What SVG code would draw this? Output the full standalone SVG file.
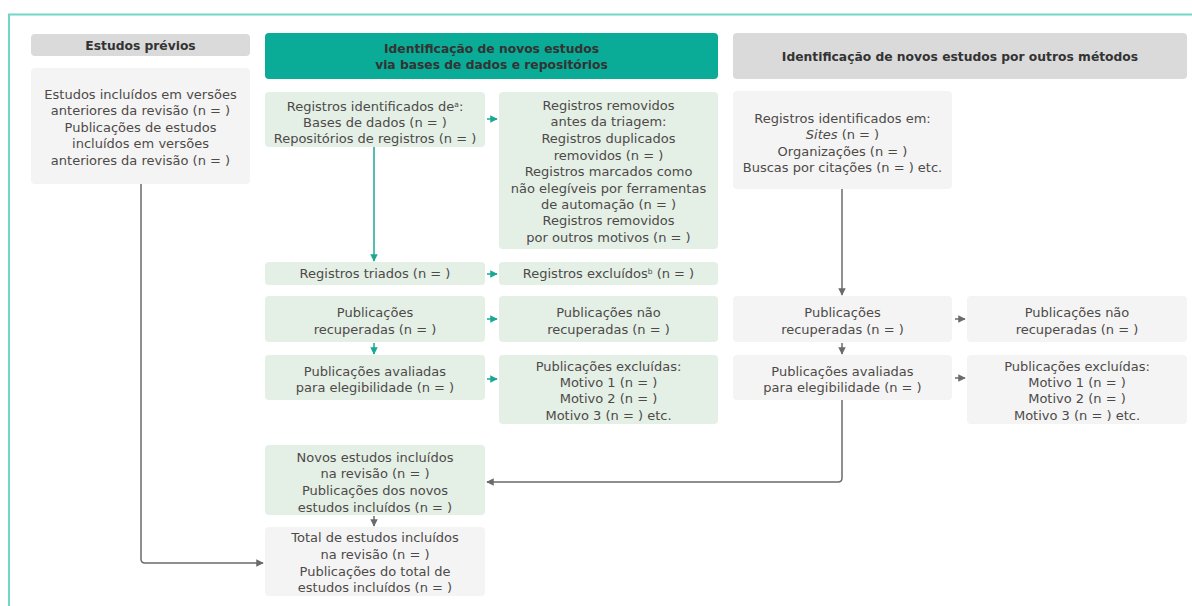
<svg xmlns="http://www.w3.org/2000/svg" width="1192" height="606" viewBox="0 0 1192 606">
<defs>
<style>
.t{font-family:"DejaVu Sans","Open Sans",sans-serif;font-size:13px;fill:#4d4a48;text-anchor:middle}
.h{font-family:"DejaVu Sans","Open Sans",sans-serif;font-size:12.3px;font-weight:bold;fill:#333;text-anchor:middle}
.g{fill:#e4efe6}
.w{fill:#f4f4f4}
.hd{fill:#dadada}
.ct{stroke:#1aa892;stroke-width:1.5;fill:none}
.cg{stroke:#6b6b6b;stroke-width:1.5;fill:none}
.sup{font-size:7.5px}
</style>
<marker id="at" viewBox="0 0 10 10" refX="9" refY="5" markerWidth="5" markerHeight="5" orient="auto"><path d="M0,0 L10,5 L0,10 Z" fill="#1aa892"/></marker>
<marker id="ag" viewBox="0 0 10 10" refX="9" refY="5" markerWidth="5" markerHeight="5" orient="auto"><path d="M0,0 L10,5 L0,10 Z" fill="#6b6b6b"/></marker>
</defs>
<rect width="1192" height="606" fill="#fff"/>
<path d="M9,606 V14.5 H1192" fill="none" stroke="#74d6c6" stroke-width="2"/>

<g id="hdr-prev"><rect class="hd" x="31" y="34" width="219" height="22" rx="4"/><text class="h" x="140.5" y="50">Estudos prévios</text></g>
<g id="hdr-db"><rect x="265" y="33" width="453" height="46" rx="4" fill="#0aab97"/><text class="h" x="491.5" y="53">Identificação de novos estudos</text><text class="h" x="491.5" y="69">via bases de dados e repositórios</text></g>
<g id="hdr-other"><rect class="hd" x="733" y="33" width="454" height="46" rx="4"/><text class="h" x="960" y="61">Identificação de novos estudos por outros métodos</text></g>

<g id="prev"><rect class="w" x="31" y="68" width="219" height="116" rx="4"/>
<text class="t" x="140.5" y="99">Estudos incluídos em versões</text>
<text class="t" x="140.5" y="115">anteriores da revisão (n = )</text>
<text class="t" x="140.5" y="132">Publicações de estudos</text>
<text class="t" x="140.5" y="148">incluídos em versões</text>
<text class="t" x="140.5" y="165">anteriores da revisão (n = )</text></g>

<g id="n1"><rect class="g" x="265" y="92" width="220" height="55" rx="4"/>
<text class="t" x="375" y="111">Registros identificados de<tspan class="sup" dy="-4">a</tspan><tspan dy="4">:</tspan></text>
<text class="t" x="375" y="127">Bases de dados (n = )</text>
<text class="t" x="375" y="143">Repositórios de registros (n = )</text></g>

<g id="n2"><rect class="g" x="499" y="92" width="219" height="157" rx="4"/>
<text class="t" x="608.5" y="110">Registros removidos</text>
<text class="t" x="608.5" y="126">antes da triagem:</text>
<text class="t" x="608.5" y="143">Registros duplicados</text>
<text class="t" x="608.5" y="160">removidos (n = )</text>
<text class="t" x="608.5" y="176">Registros marcados como</text>
<text class="t" x="608.5" y="193">não elegíveis por ferramentas</text>
<text class="t" x="608.5" y="209">de automação (n = )</text>
<text class="t" x="608.5" y="225">Registros removidos</text>
<text class="t" x="608.5" y="242">por outros motivos (n = )</text></g>

<g id="n3"><rect class="g" x="265" y="262" width="220" height="23" rx="4"/><text class="t" x="375" y="278">Registros triados (n = )</text></g>
<g id="n4"><rect class="g" x="499" y="262" width="219" height="23" rx="4"/><text class="t" x="608.5" y="278">Registros excluídos<tspan class="sup" dy="-4">b</tspan><tspan dy="4"> (n = )</tspan></text></g>

<g id="n5"><rect class="g" x="265" y="296" width="220" height="46" rx="4"/><text class="t" x="375" y="317">Publicações</text><text class="t" x="375" y="334">recuperadas (n = )</text></g>
<g id="n6"><rect class="g" x="499" y="296" width="219" height="46" rx="4"/><text class="t" x="608.5" y="317">Publicações não</text><text class="t" x="608.5" y="334">recuperadas (n = )</text></g>
<g id="n7"><rect class="g" x="265" y="355" width="220" height="45" rx="4"/><text class="t" x="375" y="376">Publicações avaliadas</text><text class="t" x="375" y="392">para elegibilidade (n = )</text></g>
<g id="n8"><rect class="g" x="499" y="355" width="219" height="69" rx="4"/>
<text class="t" x="608.5" y="371">Publicações excluídas:</text>
<text class="t" x="608.5" y="387">Motivo 1 (n = )</text>
<text class="t" x="608.5" y="403">Motivo 2 (n = )</text>
<text class="t" x="608.5" y="420">Motivo 3 (n = ) etc.</text></g>

<g id="r1"><rect class="w" x="733" y="91" width="219" height="98" rx="4"/>
<text class="t" x="842.5" y="123">Registros identificados em:</text>
<text class="t" x="842.5" y="139"><tspan font-style="italic">Sites</tspan> (n = )</text>
<text class="t" x="842.5" y="156">Organizações (n = )</text>
<text class="t" x="842.5" y="172">Buscas por citações (n = ) etc.</text></g>
<g id="r2"><rect class="w" x="733" y="296" width="219" height="46" rx="4"/><text class="t" x="842.5" y="317">Publicações</text><text class="t" x="842.5" y="334">recuperadas (n = )</text></g>
<g id="r3"><rect class="w" x="967" y="296" width="220" height="46" rx="4"/><text class="t" x="1077" y="317">Publicações não</text><text class="t" x="1077" y="334">recuperadas (n = )</text></g>
<g id="r4"><rect class="w" x="733" y="355" width="219" height="45" rx="4"/><text class="t" x="842.5" y="376">Publicações avaliadas</text><text class="t" x="842.5" y="392">para elegibilidade (n = )</text></g>
<g id="r5"><rect class="w" x="967" y="355" width="220" height="69" rx="4"/>
<text class="t" x="1077" y="371">Publicações excluídas:</text>
<text class="t" x="1077" y="387">Motivo 1 (n = )</text>
<text class="t" x="1077" y="403">Motivo 2 (n = )</text>
<text class="t" x="1077" y="420">Motivo 3 (n = ) etc.</text></g>

<g id="b1"><rect class="g" x="265" y="445" width="220" height="70" rx="4"/>
<text class="t" x="375" y="462">Novos estudos incluídos</text>
<text class="t" x="375" y="478">na revisão (n = )</text>
<text class="t" x="375" y="495">Publicações dos novos</text>
<text class="t" x="375" y="512">estudos incluídos (n = )</text></g>
<g id="b2"><rect class="w" x="265" y="527" width="220" height="69" rx="4"/>
<text class="t" x="375" y="542">Total de estudos incluídos</text>
<text class="t" x="375" y="559">na revisão (n = )</text>
<text class="t" x="375" y="576">Publicações do total de</text>
<text class="t" x="375" y="592">estudos incluídos (n = )</text></g>

<g id="connectors">
<path class="ct" d="M374,147 V261" marker-end="url(#at)"/>
<path class="ct" d="M487,119 H497" marker-end="url(#at)"/>
<path class="ct" d="M487,274 H497" marker-end="url(#at)"/>
<path class="ct" d="M487,319 H497" marker-end="url(#at)"/>
<path class="ct" d="M374,343 V354" marker-end="url(#at)"/>
<path class="ct" d="M487,379 H497" marker-end="url(#at)"/>
<path class="cg" d="M842,189 V295" marker-end="url(#ag)"/>
<path class="cg" d="M955,319 H965" marker-end="url(#ag)"/>
<path class="cg" d="M842,343 V354" marker-end="url(#ag)"/>
<path class="cg" d="M955,378 H965" marker-end="url(#ag)"/>
<path class="cg" d="M842,400 V478 Q842,482 838,482 H487" marker-end="url(#ag)"/>
<path class="cg" d="M374,516 V526" marker-end="url(#ag)"/>
<path class="cg" d="M141,184 V559 Q141,563 145,563 H263" marker-end="url(#ag)"/>
</g>
</svg>
